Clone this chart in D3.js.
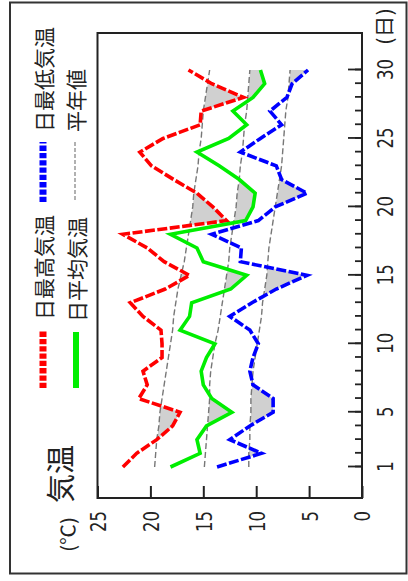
<!DOCTYPE html>
<html><head><meta charset="utf-8">
<script src="https://cdn.jsdelivr.net/npm/d3@7/dist/d3.min.js"></script>
<style>html,body{margin:0;padding:0;background:#fff;}svg{display:block;}</style>
</head><body>
<svg id="chart" width="408" height="581"></svg>
<script>
// ---- data (November daily temperatures, °C) ----
const days = [1,2,3,4,5,6,7,8,9,10,11,12,13,14,15,16,17,18,19,20,21,22,23,24,25,26,27,28,29,30];
const maxTemp = [22.6,21.3,19.4,17.9,17.2,21.1,20.3,20.7,18.9,18.9,19.0,20.7,21.9,18.6,16.3,18.7,20.3,22.6,12.8,14.1,15.6,17.8,19.9,21.0,18.8,15.3,15.2,11.2,14.2,16.4];
const meanTemp = [18.1,15.3,15.6,14.7,12.3,14.2,15.0,15.2,14.7,13.9,17.2,16.3,16.1,12.4,10.9,15.0,15.6,18.1,11.0,10.3,10.1,11.6,13.5,15.6,12.6,10.9,12.2,10.3,9.2,9.6];
const minTemp = [13.7,9.5,12.5,10.6,8.4,8.4,10.3,10.6,10.3,9.8,10.6,12.5,10.4,8.1,5.2,11.5,11.4,14.2,9.8,8.2,5.2,7.6,8.1,11.5,9.6,7.6,8.7,7.1,6.6,5.1];
const maxNormal = [19.6,19.5,19.4,19.2,19.1,18.9,18.7,18.5,18.3,18.1,17.9,17.8,17.6,17.4,17.1,16.8,16.6,16.4,16.2,16.0,15.9,15.7,15.5,15.4,15.2,15.1,15.0,14.8,14.6,14.4];
const meanNormal = [14.9,14.8,14.7,14.6,14.5,14.4,14.4,14.3,14.1,13.9,13.6,13.4,13.2,13.0,12.8,12.6,12.5,12.3,12.1,11.9,11.8,11.6,11.5,11.3,11.2,11.1,10.9,10.8,10.7,10.6];
const minNormal = [10.7,10.7,10.6,10.6,10.5,10.5,10.4,10.3,10.1,9.9,9.7,9.5,9.4,9.2,9.0,8.9,8.8,8.6,8.4,8.2,8.0,7.8,7.6,7.5,7.4,7.3,7.2,7.0,6.9,6.8];
const dayMajorTicks = [1,5,10,15,20,25,30];
const valueTicks = [0,5,10,15,20,25];
const seriesNames = ["日最高気温","日平均気温","日最低気温","平年値"];
const axisTitle = "気温";
const unitLabel = "(℃)";
const dayUnitLabel = "(日)";

// ---- layout (chart drawn unrotated, then turned 90° counter-clockwise) ----
const W = 581, H = 408;
const plot = {left: 83, right: 548, top: 97.5, bottom: 362};
const JP = "'Noto Sans CJK JP', 'Noto Sans', sans-serif";
const NUM = "'DejaVu Sans', 'Noto Sans', sans-serif";

const svg = d3.select('#chart');
const g = svg.append('g').attr('transform', `translate(0,${W}) rotate(-90)`);

const x = d3.scaleLinear().domain([1, 30]).range([114, 511]);
const y = d3.scaleLinear().domain([0, 25]).range([plot.bottom, plot.top]);

// outer frame
g.append('rect').attr('x', 7.5).attr('y', 10).attr('width', 571).attr('height', 396.5)
  .attr('fill', 'none').attr('stroke', '#333').attr('stroke-width', 2);

const series = [
  {vals: maxTemp,  norm: maxNormal,  color: '#ff0000', dash: '10,2.5'},
  {vals: meanTemp, norm: meanNormal, color: '#00ee00', dash: null},
  {vals: minTemp,  norm: minNormal,  color: '#0000ff', dash: '10,2.5'}
];

const defs = g.append('defs');
// gray fills where the day was colder than normal
series.forEach((s, i) => {
  const rows = days.map((d, k) => ({d, v: s.vals[k], n: s.norm[k]}));
  defs.append('clipPath').attr('id', 'below' + i)
    .append('path')
    .attr('d', d3.area().x(r => x(r.d)).y0(plot.bottom + 20).y1(r => y(r.n))(rows));
  g.append('path')
    .attr('d', d3.area().x(r => x(r.d)).y0(r => y(r.n)).y1(r => y(r.v))(rows))
    .attr('fill', '#d0d0d0')
    .attr('clip-path', `url(#below${i})`);
});

// normal lines
series.forEach(s => {
  g.append('path')
    .attr('d', d3.line().x((d, k) => x(days[k])).y(d => y(d))(s.norm))
    .attr('fill', 'none').attr('stroke', '#777').attr('stroke-width', 1.4)
    .attr('stroke-dasharray', '6,3');
});

// data lines
series.forEach(s => {
  const p = g.append('path')
    .attr('d', d3.line().x((d, k) => x(days[k])).y(d => y(d))(s.vals))
    .attr('fill', 'none').attr('stroke', s.color).attr('stroke-width', 3.6)
    .attr('stroke-linejoin', 'miter');
  if (s.dash) p.attr('stroke-dasharray', s.dash);
});

// plot box
g.append('rect').attr('x', plot.left).attr('y', plot.top)
  .attr('width', plot.right - plot.left).attr('height', plot.bottom - plot.top)
  .attr('fill', 'none').attr('stroke', '#222').attr('stroke-width', 2);

// value axis (left, ticks inward)
const ya = g.append('g').attr('transform', `translate(${plot.left},0)`)
  .call(d3.axisLeft(y).tickValues(valueTicks).tickSize(-12).tickPadding(13));
ya.select('.domain').remove();
ya.selectAll('.tick line').attr('stroke', '#222').attr('stroke-width', 2);
ya.selectAll('.tick text')
  .attr('font-family', NUM).attr('font-size', 22).attr('fill', '#222')
  .attr('dy', '0.36em')
  .attr('textLength', d => String(d).length * 10.5).attr('lengthAdjust', 'spacingAndGlyphs');

// day axis (bottom, ticks inward)
const xaMinor = g.append('g').attr('transform', `translate(0,${plot.bottom})`)
  .call(d3.axisBottom(x).tickValues(days).tickSize(-7).tickFormat(''));
xaMinor.select('.domain').remove();
xaMinor.selectAll('.tick line').attr('stroke', '#222').attr('stroke-width', 1.8);

const xa = g.append('g').attr('transform', `translate(0,${plot.bottom})`)
  .call(d3.axisBottom(x).tickValues(dayMajorTicks).tickSize(-14));
xa.select('.domain').remove();
xa.selectAll('.tick line').attr('stroke', '#222').attr('stroke-width', 1.8);
xa.selectAll('.tick text')
  .attr('y', 23).attr('dy', '0.36em')
  .attr('font-family', NUM).attr('font-size', 22).attr('fill', '#222')
  .attr('textLength', d => String(d).length * 10.5).attr('lengthAdjust', 'spacingAndGlyphs');

g.append('text').attr('x', 554.5).attr('y', 385).attr('dy', '0.36em')
  .attr('text-anchor', 'middle').attr('font-family', JP).attr('font-size', 20).attr('fill', '#222')
  .attr('textLength', 37).attr('lengthAdjust', 'spacingAndGlyphs')
  .text(dayUnitLabel);

// axis title
g.append('text').attr('x', 78).attr('y', 62).attr('dy', '0.36em')
  .attr('font-family', JP).attr('font-size', 29).attr('fill', '#222')
  .text(axisTitle);
g.append('text').attr('x', 64).attr('y', 68.5).attr('dy', '0.36em')
  .attr('text-anchor', 'end').attr('font-family', JP).attr('font-size', 19).attr('fill', '#222')
  .attr('textLength', 35).attr('lengthAdjust', 'spacingAndGlyphs')
  .text(unitLabel);

// legend
const leg = [
  {name: seriesNames[0], x0: 193, x1: 251, yy: 43, color: '#ff0000', w: 7, dash: '5.3,2'},
  {name: seriesNames[1], x0: 193, x1: 249, yy: 76, color: '#00ee00', w: 6, dash: null},
  {name: seriesNames[2], x0: 379, x1: 439, yy: 43, color: '#0000ff', w: 7, dash: '5.3,2'},
  {name: seriesNames[3], x0: 381, x1: 439, yy: 75, color: '#888', w: 1.3, dash: '4,2'}
];
leg.forEach(l => {
  const ln = g.append('line').attr('x1', l.x0).attr('x2', l.x1).attr('y1', l.yy).attr('y2', l.yy)
    .attr('stroke', l.color).attr('stroke-width', l.w);
  if (l.dash) ln.attr('stroke-dasharray', l.dash);
  g.append('text').attr('x', l.x1 + 10).attr('y', l.yy + 1).attr('dy', '0.36em')
    .attr('font-family', JP).attr('font-size', 21).attr('fill', '#222')
    .text(l.name);
});
</script>
</body></html>
